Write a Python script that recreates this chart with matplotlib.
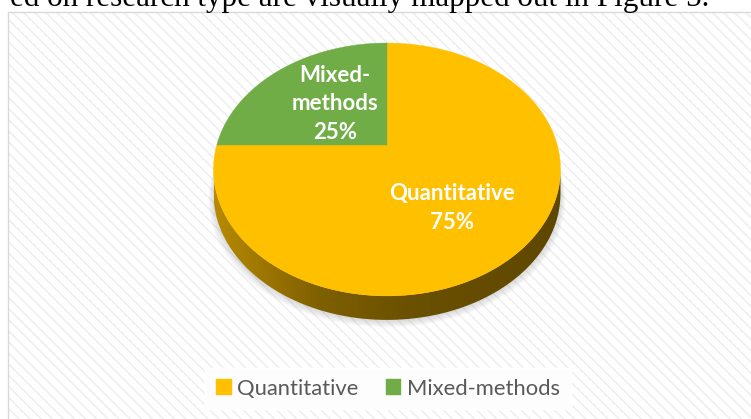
import numpy as np
import matplotlib
matplotlib.use('Agg')
import matplotlib.pyplot as plt
from matplotlib.patches import Polygon, Rectangle
from matplotlib.colors import LinearSegmentedColormap, to_rgb

# ---------------- data ----------------
categories = ['Quantitative', 'Mixed-methods']
shares = [75, 25]
label_texts = ['Quantitative\n75%', 'Mixed-\nmethods\n25%']
colors = ['#FFC000', '#70AD47']
caption = 'ed on research type are visually mapped out in Figure 5.'

# ---------------- layout ----------------
W, H = 751, 419
CX, CY = 387, 145          # projected pie centre (px)
FX, FY = 170.2, 121.7      # projection scales (px)
K = 0.1935                 # perspective factor
DEPTH = 24                 # thickness of 3-D side (px)
LABEL_R = 0.5
LABEL_OFFSET = [(0, 17), (4, -1)]

plt.rcParams['hatch.linewidth'] = 1.1
fig = plt.figure(figsize=(W / 100, H / 100), dpi=100)
ax = fig.add_axes([0, 0, 1, 1])


def project(x, y):
    d = 1 + K * y
    return CX + FX * x / d, CY - FY * y / d


wedges, _ = ax.pie(shares, startangle=90, counterclock=False, radius=1, center=(0, 0))
angles = [(w.theta1, w.theta2) for w in wedges]
for w in wedges:
    w.remove()
ax.set_xlim(0, W)
ax.set_ylim(H, 0)
ax.set_aspect('auto')
ax.axis('off')

# background panel with diagonal stripes
ax.add_patch(Rectangle((8, 12), W, H, facecolor='white', edgecolor='#eeeeee',
                       hatch='\\\\\\', lw=0, zorder=0))
ax.add_patch(Rectangle((8, 12), W, H, facecolor='none', edgecolor='#d9d9d9',
                       lw=1.0, zorder=0.5))

# soft shadow
tt = np.linspace(0, 2 * np.pi, 400)
for i in range(8):
    sx, sy = project(np.cos(tt), np.sin(tt))
    sx = CX + (sx - CX) * (1.0 + 0.004 * i)
    sy = sy + DEPTH + 1 + i * 0.9
    ax.add_patch(Polygon(np.column_stack([sx, sy]), closed=True,
                         facecolor='#7f7f7f', edgecolor='none', alpha=0.035, zorder=1))

# 3-D side of the front-facing parts of each slice
vis_lo = 180 + np.degrees(np.arcsin(K))
vis_hi = 360 - np.degrees(np.arcsin(K))
side_cmap_stops = [(0.0, 0.72), (0.3, 0.50), (0.55, 0.42), (1.0, 0.37)]
for (t1, t2), col in zip(angles, colors):
    a1, a2 = t1 % 360, (t1 % 360) + (t2 - t1)
    for shift in (-360, 0, 360):
        lo, hi = max(a1 + shift, vis_lo), min(a2 + shift, vis_hi)
        if hi <= lo:
            continue
        th = np.radians(np.linspace(lo, hi, 200))
        px, py = project(np.cos(th), np.sin(th))
        poly = np.vstack([np.column_stack([px, py]),
                          np.column_stack([px[::-1], py[::-1] + DEPTH])])
        side = Polygon(poly, closed=True, facecolor='none', edgecolor='none', zorder=2)
        ax.add_patch(side)
        base = np.array(to_rgb(col))
        cmap = LinearSegmentedColormap.from_list(
            'side', [(p, tuple(base * f)) for p, f in side_cmap_stops])
        x0, x1 = CX - FX / np.sqrt(1 - K ** 2), CX + FX / np.sqrt(1 - K ** 2)
        grad = np.linspace(0, 1, 256).reshape(1, -1)
        im = ax.imshow(grad, cmap=cmap, extent=(x0, x1, py.max() + DEPTH + 2, py.min() - 2),
                       aspect='auto', zorder=2, interpolation='bilinear')
        im.set_clip_path(side)
ax.set_xlim(0, W)
ax.set_ylim(H, 0)

# top faces
handles = []
for (t1, t2), col, name in zip(angles, colors, categories):
    th = np.radians(np.linspace(t1, t2, 300))
    px, py = project(np.cos(th), np.sin(th))
    c0 = project(0, 0)
    verts = np.vstack([[c0], np.column_stack([px, py])])
    p = Polygon(verts, closed=True, facecolor=col, edgecolor=col, lw=0.3, zorder=3, label=name)
    ax.add_patch(p)
    handles.append(p)

# data labels
for (t1, t2), txt, (ox, oy) in zip(angles, label_texts, LABEL_OFFSET):
    mid = np.radians((t1 + t2) / 2)
    lx, ly = project(LABEL_R * np.cos(mid), LABEL_R * np.sin(mid))
    ax.text(lx + ox, ly + oy, txt, ha='center', va='center', color='white',
            fontsize=16, fontweight='bold', family=['Lato', 'DejaVu Sans'],
            linespacing=1.45, zorder=4)

# legend
leg = ax.legend(handles=handles, loc='center', ncol=2,
                bbox_to_anchor=(388 / W, 1 - 388.5 / H), bbox_transform=fig.transFigure,
                frameon=True, fancybox=False, framealpha=1, edgecolor='white',
                facecolor='#fdfdfd', prop={'family': ['Lato', 'DejaVu Sans'], 'size': 15.8},
                handlelength=0.7, handleheight=0.7, handletextpad=0.25,
                columnspacing=1.25, borderpad=0.5, labelcolor='#595959')
leg.set_zorder(5)

# caption from surrounding document (clipped at the top, as in the source screenshot)
fig.text(709 / W, 1 - 6 / H, caption, ha='right', va='baseline',
         family=['Liberation Serif', 'DejaVu Serif'], fontsize=22.4, color='black')

fig.savefig('out.png', dpi=100)
